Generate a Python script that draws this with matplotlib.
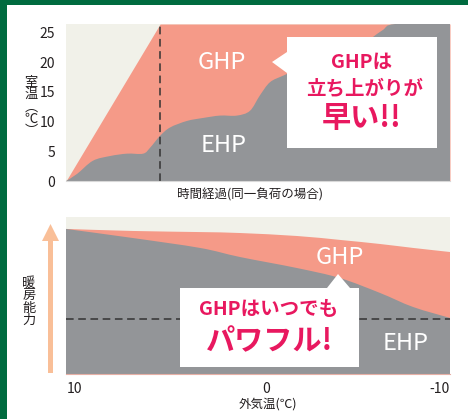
import matplotlib
matplotlib.use("Agg")
import matplotlib.pyplot as plt
import numpy as np
from matplotlib.patches import Rectangle, Polygon, FancyArrow, PathPatch
from matplotlib.path import Path

plt.rcParams['font.family'] = ['Noto Sans CJK JP', 'DejaVu Sans']

# 上段: 立ち上がり (時間 0-100, 室温 ℃)
t_ghp = [0, 24.5, 100]
temp_ghp = [0, 26.4, 26.4]
t_ehp = [0, 2.9, 7.0, 11.5, 15.9, 20.1, 21.9, 24.5, 27.1, 31.5, 35.7, 40.1, 44.5,
         47.9, 50.5, 53.1, 56.5, 60.9, 68.8, 76.6, 82.3, 85.7, 100]
temp_ehp = [0, 1.2, 3.4, 4.2, 4.6, 4.6, 5.6, 7.6, 9.0, 10.1, 10.6, 11.0, 11.0,
            11.8, 14.4, 16.6, 17.7, 18.9, 20.8, 22.8, 25.3, 26.4, 26.4]
yticks_top = [0, 5, 10, 15, 20, 25]

# 下段: 外気温と暖房能力
out_temp = [10.87, 7.23, 3.59, 1.41, -1.68, -4.02, -6.2, -7.99, -10]
cap_ghp = [92.4, 91.1, 90.4, 89.8, 87.9, 85.4, 82.8, 80.3, 77.7]
cap_ehp = [92.4, 86.6, 80.3, 74.5, 67.5, 61.1, 51.6, 42.7, 35.7]
xticks_bot = [10, 0, -10]
xlabels_bot = ['10', '0', '-10']

SALMON = '#F59A88'
GRAY = '#939598'
BEIGE = '#F1F1E9'
PINK = '#E8185F'
INK = '#231F20'


def smooth_area(ax, xs, ys, color):
    # area under a curve drawn as bezier through the given points
    p = np.column_stack([xs, ys]).astype(float)
    verts = [(p[0, 0], 0), tuple(p[0])]
    codes = [Path.MOVETO, Path.LINETO]
    n = len(p)
    for i in range(n - 1):
        p0 = p[i - 1] if i > 0 else p[i]
        p3 = p[i + 2] if i + 2 < n else p[i + 1]
        c1 = p[i] + (p[i + 1] - p0) / 6
        c2 = p[i + 1] - (p3 - p[i]) / 6
        verts += [tuple(c1), tuple(c2), tuple(p[i + 1])]
        codes += [Path.CURVE4] * 3
    verts += [(p[-1, 0], 0), (p[0, 0], 0)]
    codes += [Path.LINETO, Path.CLOSEPOLY]
    ax.add_patch(PathPatch(Path(verts, codes), facecolor=color, lw=0))


fig = plt.figure(figsize=(4.68, 4.19), dpi=100)
fig.patch.set_facecolor('white')

## top chart
ax1 = fig.add_axes([66/468, 1-181/419, 384/468, 157/419])
ax1.set_facecolor(BEIGE)
ax1.fill_between(t_ghp, 0, temp_ghp, color=SALMON, lw=0)
smooth_area(ax1, t_ehp, temp_ehp, GRAY)
ax1.axvline(24.5, color='#333333', lw=1.1, dashes=(5, 3))
ax1.set_xlim(0, 100)
ax1.set_ylim(0, 26.4)
ax1.set_yticks(yticks_top)
ax1.set_xticks([])
ax1.tick_params(axis='y', length=0, pad=8, labelsize=10, labelcolor=INK)
for s in ['top', 'right', 'left']:
    ax1.spines[s].set_visible(False)
ax1.spines['bottom'].set_color('#d8d8d8')
ax1.text(40.5, 20.0, 'GHP', color='white', fontsize=17, ha='center', va='center')
ax1.text(41, 6.0, 'EHP', color='white', fontsize=17, ha='center', va='center')

## bottom chart
ax2 = fig.add_axes([66/468, 1-374/419, 384/468, 157/419])
ax2.set_facecolor(BEIGE)
smooth_area(ax2, out_temp, cap_ghp, SALMON)
smooth_area(ax2, out_temp, cap_ehp, GRAY)
ax2.axhline(35.0, color='#333333', lw=1.1, dashes=(5, 3))
ax2.set_xlim(10.87, -10)
ax2.set_ylim(0, 100)
ax2.set_yticks([])
ax2.set_xticks(xticks_bot)
ax2.set_xticklabels(xlabels_bot)
ax2.tick_params(axis='x', length=0, pad=6, labelsize=10, labelcolor=INK)
lbls = ax2.get_xticklabels()
lbls[0].set_ha('right')
lbls[2].set_ha('right')
for s in ['top', 'right', 'left']:
    ax2.spines[s].set_visible(False)
ax2.spines['bottom'].set_color('#e6b0a6')
ax2.text(-4.0, 74, 'GHP', color='white', fontsize=17, ha='center', va='center')
ax2.text(-7.6, 19.5, 'EHP', color='white', fontsize=17, ha='center', va='center')

## overlay (pixel coords) for labels, callouts, frame
ov = fig.add_axes([0, 0, 1, 1])
ov.set_xlim(0, 468)
ov.set_ylim(419, 0)
ov.axis('off')
ov.patch.set_visible(False)

# green frame
ov.add_patch(Rectangle((0, 0), 7, 419, color='#006B3F', lw=0))
ov.add_patch(Rectangle((0, 0), 468, 5, color='#006B3F', lw=0))

# axis labels
ov.text(31, 107, '室\n温\n︵\n℃\n︶', fontsize=9.5, color=INK, ha='center', va='center',
        linespacing=0.92)
ov.text(250, 195, '時間経過(同一負荷の場合)', fontsize=9, color=INK, ha='center', va='center')
ov.text(29, 302, '暖\n房\n能\n力', fontsize=9.5, color=INK, ha='center', va='center',
        linespacing=0.95)
ov.text(268, 404, '外気温(℃)', fontsize=9, color=INK, ha='center', va='center')

# arrow
ov.add_patch(FancyArrow(50.5, 373, 0, -149, width=5, head_width=17, head_length=17,
                        length_includes_head=True, color='#F9BF98', lw=0))

# top callout
ov.add_patch(Polygon([[287, 52], [272, 62], [287, 73]], color='white', lw=0))
ov.add_patch(Rectangle((287, 37), 150, 111, color='white', lw=0))
ov.text(362, 62, 'GHPは', color=PINK, fontsize=14, fontweight='bold', ha='center', va='center')
ov.text(365, 89, '立ち上がりが', color=PINK, fontsize=14, fontweight='bold', ha='center', va='center')
ov.text(362, 118, '早い!!', color=PINK, fontsize=21, fontweight='bold', ha='center', va='center')

# bottom callout
ov.add_patch(Polygon([[327, 288], [338, 274], [350, 288]], color='white', lw=0))
ov.add_patch(Rectangle((180, 288), 179, 79, color='white', lw=0))
ov.text(269, 309, 'GHPはいつでも', color=PINK, fontsize=14, fontweight='bold', ha='center', va='center')
ov.text(270, 341, 'パワフル!', color=PINK, fontsize=21, fontweight='bold', ha='center', va='center')

fig.savefig('out.png', dpi=100)
